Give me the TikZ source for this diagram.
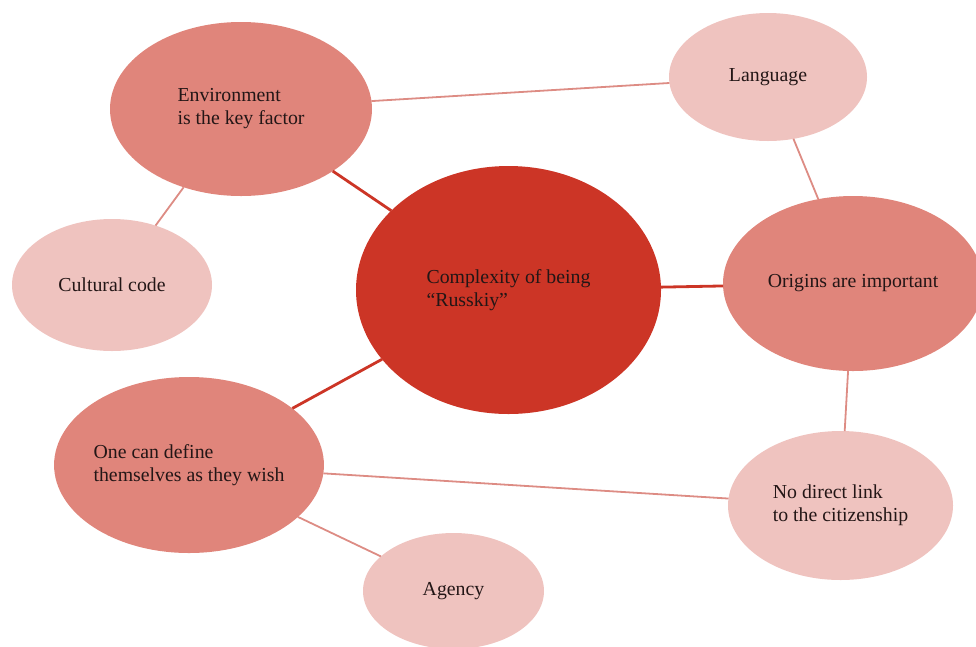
\documentclass[tikz,border=0pt]{standalone}
\usepackage{fontspec}
\setmainfont{Liberation Serif}
\usepackage{tikz}
\usetikzlibrary{shapes.geometric}
\definecolor{coreRed}{HTML}{CC3526}
\definecolor{themeRose}{HTML}{E0857B}
\definecolor{detailPink}{HTML}{EFC3BF}
\definecolor{linkRose}{HTML}{DD8C84}
\definecolor{inkDark}{HTML}{231616}
\tikzstyle{bubble}=[ellipse, inner sep=0pt, outer sep=0pt, align=left, text=inkDark, font=\fontsize{19.8}{23}\selectfont]
\tikzstyle{core}=[bubble, fill=coreRed]
\tikzstyle{theme}=[bubble, fill=themeRose]
\tikzstyle{detail}=[bubble, fill=detailPink]
\tikzstyle{strong}=[draw=coreRed, line width=2.8pt]
\tikzstyle{weak}=[draw=linkRose, line width=1.8pt]

\begin{document}
\begin{tikzpicture}[node distance=150pt, x=1pt, y=1pt]
		\useasboundingbox (0,0) rectangle (976,-646);
		\clip (0,0) rectangle (976,-646);

		\node (core) [core, minimum width=305pt, minimum height=248pt] at (508.5,-290) {Complexity of being\\``Russkiy''};
		\node (env) [theme, left of=core, xshift=-117.5pt, yshift=181pt, minimum width=262pt, minimum height=174pt] {Environment\\is the key factor};
		\node (orig) [theme, right of=core, xshift=194.5pt, yshift=6.5pt, minimum width=260pt, minimum height=175pt] {Origins are important};
		\node (lang) [detail, above of=orig, xshift=-85pt, yshift=56.5pt, minimum width=198pt, minimum height=128pt] {Language};
		\node (culture) [detail, below of=env, xshift=-129pt, yshift=-26pt, minimum width=200pt, minimum height=132pt] {Cultural code};
		\node (define) [theme, below of=culture, xshift=77pt, yshift=-30pt, minimum width=268pt, minimum height=176pt] {One can define\\themselves as they wish};
		\node (nolink) [detail, below of=orig, xshift=-12.5pt, yshift=-72pt, minimum width=225pt, minimum height=149pt] {No direct link\\to the citizenship};
		\node (agency) [detail, below of=core, xshift=-55pt, yshift=-151pt, minimum width=181pt, minimum height=116pt] {Agency};

		\draw[strong] (core) -- (env);
		\draw[strong] (core) -- (orig);
		\draw[strong] (core) -- (define);
		\draw[weak] (env) -- (lang);
		\draw[weak] (env) -- (culture);
		\draw[weak] (lang) -- (orig);
		\draw[weak] (orig) -- (nolink);
		\draw[weak] (define) -- (nolink);
		\draw[weak] (define) -- (agency);

		\end{tikzpicture}
\end{document}
